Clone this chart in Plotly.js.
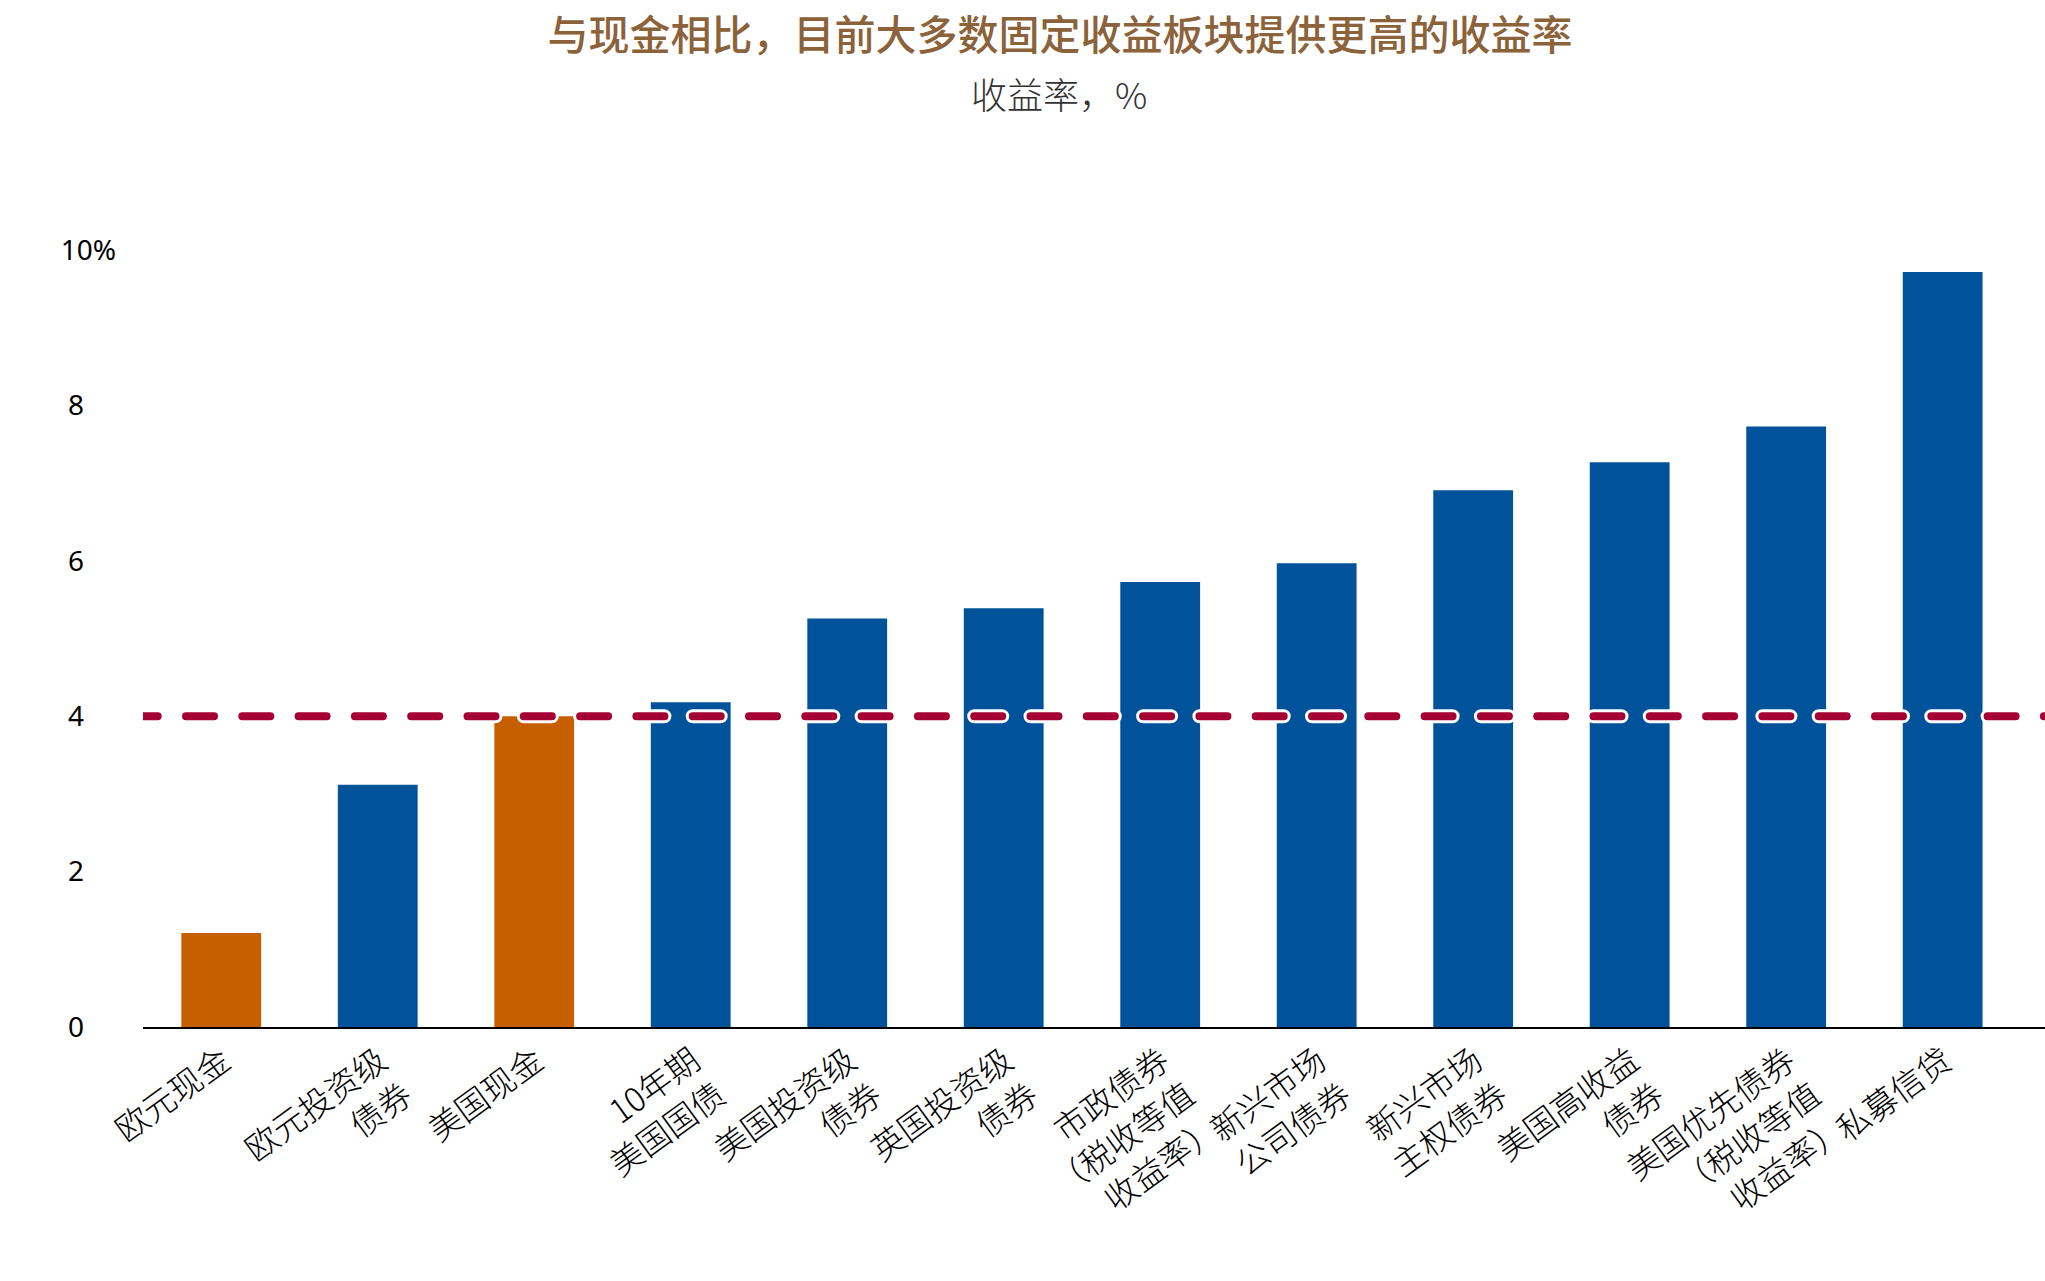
<!DOCTYPE html>
<html>
<head>
<meta charset="utf-8">
<script src="https://cdn.plot.ly/plotly-3.0.1.min.js"></script>
<style>
  html, body { margin: 0; padding: 0; background: #ffffff; }
  #chart { width: 2045px; height: 1281px; }
  /* rounded dash ends for the reference line */
  #chart .scatterlayer path.js-line { stroke-linecap: round; }
</style>
</head>
<body>
<div id="chart"></div>
<script>
// Yield by fixed income sector, %
const categories = [
  "欧元现金",
  "欧元投资级<br>债券",
  "美国现金",
  "10年期<br>美国国债",
  "美国投资级<br>债券",
  "英国投资级<br>债券",
  "市政债券<br>（税收等值<br>收益率）",
  "新兴市场<br>公司债券",
  "新兴市场<br>主权债券",
  "美国高收益<br>债券",
  "美国优先债券<br>（税收等值<br>收益率）",
  "私募信贷"
];
const yields = [1.21, 3.12, 4.0, 4.18, 5.26, 5.39, 5.73, 5.97, 6.91, 7.27, 7.73, 9.72];
const isCash = [true, false, true, false, false, false, false, false, false, false, false, false];
const cashYield = 4;   // reference level drawn as the dashed line

const yTickVals = [0, 2, 4, 6, 8, 10];
const yTickText = ["0\u2007\u2007", "2\u2007\u2007", "4\u2007\u2007", "6\u2007\u2007", "8\u2007\u2007", "10%"];

const titleText = "与现金相比，目前大多数固定收益板块提供更高的收益率";
const subtitleText = "收益率，%";

// colours
const BLUE = "#00539B";
const ORANGE = "#C65F00";
const CRIMSON = "#A50034";

// geometry helpers (px -> x data units)
const plotLeft = 143, plotRight = 2045;
const xMin = -0.5, xMax = 11.654;
const pxPerUnit = (plotRight - plotLeft) / (xMax - xMin);
const dashStart = xMin - 13.3 / pxPerUnit;

const idx = categories.map((_, i) => i);

const bars = {
  type: "bar",
  x: idx,
  y: yields,
  width: 0.51,
  marker: { color: isCash.map(c => c ? ORANGE : BLUE), line: { width: 0 } },
  hoverinfo: "skip",
  showlegend: false
};

// white halo behind the dashed line (visible where it crosses bars)
const halo = {
  type: "scatter",
  mode: "lines",
  x: [dashStart, xMax],
  y: [cashYield, cashYield],
  line: { color: "#ffffff", width: 14, dash: "28px,28.3px" },
  hoverinfo: "skip",
  showlegend: false
};

const dashed = {
  type: "scatter",
  mode: "lines",
  x: [dashStart, xMax],
  y: [cashYield, cashYield],
  line: { color: CRIMSON, width: 8, dash: "28px,28.3px" },
  hoverinfo: "skip",
  showlegend: false
};

const layout = {
  width: 2045,
  height: 1281,
  margin: { l: plotLeft, r: 2045 - plotRight, t: 227, b: 254, pad: 0 },
  paper_bgcolor: "#ffffff",
  plot_bgcolor: "#ffffff",
  showlegend: false,
  title: {
    text: titleText,
    font: { family: "Noto Sans CJK SC", size: 41, color: "#8B6239", weight: 500 },
    xref: "container", yref: "container",
    x: 1060 / 2045, y: 1 - 36 / 1281,
    xanchor: "center", yanchor: "middle"
  },
  annotations: [{
    text: subtitleText,
    xref: "paper", yref: "paper",
    x: (1059 - plotLeft) / (plotRight - plotLeft),
    y: (1027 - 93) / 800,
    xanchor: "center", yanchor: "middle",
    showarrow: false,
    font: { family: "Noto Sans CJK SC", size: 36, color: "#333333", weight: 300 }
  }],
  xaxis: {
    type: "linear",
    range: [xMin, xMax],
    tickmode: "array",
    tickvals: idx,
    ticktext: categories,
    tickangle: -36,
    ticks: "",
    ticklabelshift: 2,
    showgrid: false,
    zeroline: false,
    showline: true,
    linecolor: "#000000",
    linewidth: 2,
    tickfont: { family: "Noto Sans CJK SC", size: 33, color: "#000000", weight: 300 },
    fixedrange: true
  },
  yaxis: {
    range: [0, 10.3],
    tickmode: "array",
    tickvals: yTickVals,
    ticktext: yTickText,
    ticks: "",
    ticklabelstandoff: 26,
    showgrid: false,
    zeroline: false,
    showline: false,
    tickfont: { family: "Noto Sans", size: 28, color: "#000000" },
    fixedrange: true
  }
};

Plotly.newPlot("chart", [bars, halo, dashed], layout, { staticPlot: true, displayModeBar: false });
</script>
</body>
</html>
